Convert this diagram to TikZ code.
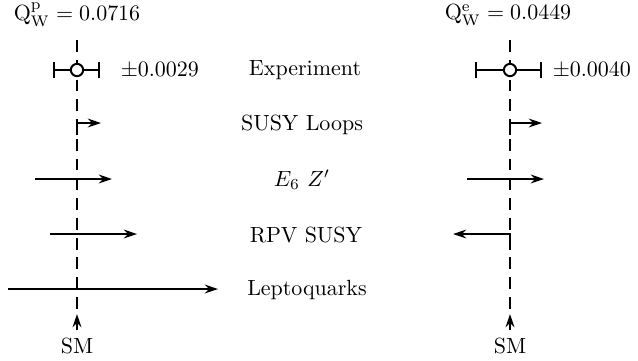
\documentclass[tikz,border=0pt]{standalone}
\usetikzlibrary{arrows.meta}

\begin{document}
\begin{tikzpicture}[x=0.16mm,y=-0.16mm,
    delta/.style={line width=1pt,-{Stealth[length=6pt,width=4pt]}},
    smline/.style={line width=1.3pt,dash pattern=on 5.4pt off 3.6pt},
    errbar/.style={line width=0.9pt,{Bar[width=7pt]}-{Bar[width=7pt]}}]
    \useasboundingbox (0,0) rectangle (638,360);

    % standard model values
    \node (qp) at (77,15) {$\mathrm{Q}^{\mathrm{p}}_{\mathrm{W}} = 0.0716$};
    \node (qe) at (508,15) {$\mathrm{Q}^{\mathrm{e}}_{\mathrm{W}} = 0.0449$};
    \draw[smline] (77,40) -- (77,312);
    \draw[smline] (510,40) -- (510,312);

    % measurements
    \draw[errbar] (53,70) -- (100,70);
    \draw[line width=0.9pt,fill=white] (77,70) circle[radius=2.8pt];
    \node[anchor=west] (errp) at (113,70) {$\pm 0.0029$};
    \draw[errbar] (475,70) -- (542,70);
    \draw[line width=0.9pt,fill=white] (510,70) circle[radius=2.8pt];
    \node[anchor=west] (erre) at (545,70) {$\pm 0.0040$};

    % models
    \node (exp) at (305,70) {Experiment};
    \node (susy) at (302,125) {SUSY Loops};
    \node (zp) at (302,180) {$E_6\ Z'$};
    \node (rpv) at (306,235) {RPV SUSY};
    \node (lq) at (307,290) {Leptoquarks};

    % shifts away from the SM
    \draw[delta] (77,135) -- (77,123) -- (101,123);
    \draw[delta] (510,135) -- (510,123) -- (542,123);
    \draw[delta] (35,179) -- (112,179);
    \draw[delta] (467,179) -- (544,179);
    \draw[delta] (50,234) -- (137,234);
    \draw[delta] (510,244) -- (510,234) -- (453,234);
    \draw[delta] (8,289) -- (218,289);

    % SM markers
    \node (smp) at (77,346) {SM};
    \node (sme) at (510,346) {SM};
    \draw[delta] (smp.north) -- (77,314);
    \draw[delta] (sme.north) -- (510,314);
\end{tikzpicture}
\end{document}
